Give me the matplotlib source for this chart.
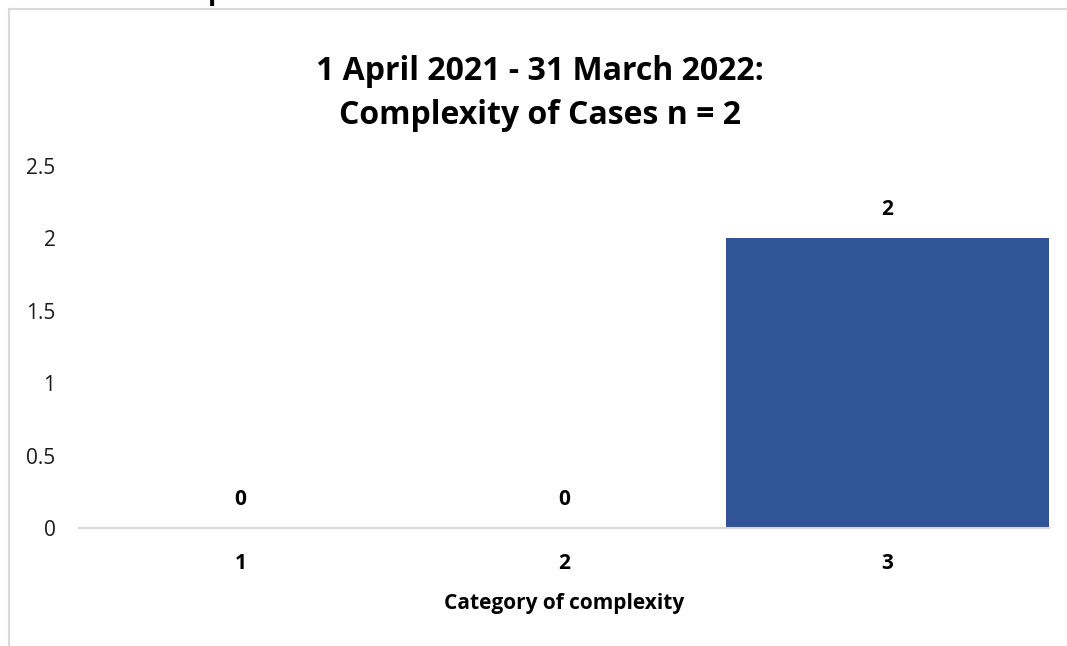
import matplotlib
matplotlib.use("Agg")
import matplotlib.pyplot as plt
from matplotlib.lines import Line2D

plt.rcParams['font.family'] = ['Open Sans', 'DejaVu Sans']

categories = ["1", "2", "3"]
cases = [0, 0, 2]
title_lines = ["1 April 2021 - 31 March 2022:", "Complexity of Cases n = 2"]
x_label = "Category of complexity"
y_ticks = [0, 0.5, 1, 1.5, 2, 2.5]

W, H = 1067, 646
fig = plt.figure(figsize=(W / 100, H / 100), dpi=100)
fig.patch.set_facecolor("white")

# chart frame (only the top and left edges fall inside the image)
border = "#d9d9d9"
fig.add_artist(Line2D([9 / W, 1.0], [1 - 9 / H, 1 - 9 / H], color=border, lw=1.5))
fig.add_artist(Line2D([9 / W, 9 / W], [0.0, 1 - 9 / H], color=border, lw=1.5))

# descender of the heading text sitting above the chart
fig.text(208 / W, 1 + 1 / H, "p", fontsize=20, fontweight="bold",
         ha="left", va="baseline", color="black")

left, right = 79 / W, 1049 / W
bottom, top = 1 - 528 / H, 1 - 166 / H
ax = fig.add_axes([left, bottom, right - left, top - bottom])

xpos = list(range(len(categories)))
bars = ax.bar(xpos, cases, width=1.0, color="#2f5597", zorder=2)

ax.set_xlim(-0.5, len(categories) - 0.5)
ax.set_ylim(0, 2.5)
ax.set_yticks(y_ticks)
ax.set_yticklabels([f"{t:g}" for t in y_ticks], fontsize=15, color="#1a1a1a")
ax.set_xticks(xpos)
ax.set_xticklabels(categories, fontsize=15, fontweight="bold", color="black")
ax.tick_params(axis="y", length=0, pad=17)
ax.tick_params(axis="x", length=0, pad=18)

for s in ["top", "right", "left"]:
    ax.spines[s].set_visible(False)
ax.spines["bottom"].set_color(border)
ax.spines["bottom"].set_linewidth(1.5)
ax.spines["bottom"].set_zorder(3)

for x, v in zip(xpos, cases):
    ax.annotate(f"{v:g}", (x, v), xytext=(0, 13), textcoords="offset points",
                ha="center", va="bottom", fontsize=15, fontweight="bold",
                color="black")

ax.set_xlabel(x_label, fontsize=15, fontweight="bold", color="black", labelpad=14)

fig.text(540 / W, 1 - 72 / H, title_lines[0], fontsize=23, fontweight="bold",
         ha="center", va="center", color="black")
fig.text(540 / W, 1 - 115 / H, title_lines[1], fontsize=23, fontweight="bold",
         ha="center", va="center", color="black")

fig.savefig("out.png", dpi=100, facecolor="white")
